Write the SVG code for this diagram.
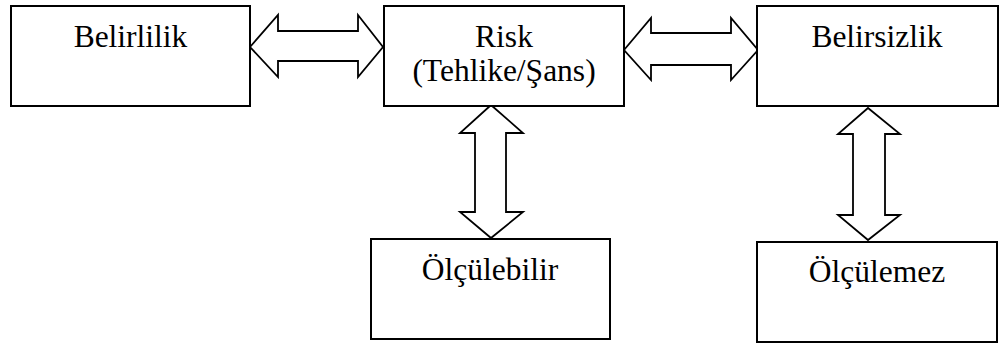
<svg xmlns="http://www.w3.org/2000/svg" width="1000" height="344" viewBox="0 0 1000 344">
<style>
.box{fill:#fff;stroke:#000;stroke-width:2}
.arr{fill:#fff;stroke:#000;stroke-width:1.8;stroke-linejoin:miter}
.t{font-family:'Liberation Serif','Times New Roman',serif;font-size:31.5px;fill:#000;text-anchor:middle}
</style>
<rect width="1000" height="344" fill="#fff"/>
<g id="connectors">
<polygon class="arr" points="250,47 278,15 278,31 358,31 358,15 383,47 358,77 358,61 278,61 278,77"/>
<polygon class="arr" points="624,50 651,18 651,33 731,33 731,18 758,50 731,80 731,65 651,65 651,80"/>
<polygon class="arr" points="491,105 523,133 506,133 506,212 523,212 491,238 460,212 475,212 475,133 460,133"/>
<polygon class="arr" points="868,108 900,134 885,134 885,215 900,215 868,240 838,215 853,215 853,134 838,134"/>
</g>
<g id="belirlilik"><rect class="box" x="11" y="6" width="239" height="100"/><text class="t" x="130.5" y="47">Belirlilik</text></g>
<g id="risk"><rect class="box" x="384" y="6" width="240" height="100"/><text class="t" x="504" y="47">Risk</text><text class="t" x="504" y="81">(Tehlike/Şans)</text></g>
<g id="belirsizlik"><rect class="box" x="757" y="6" width="241" height="100"/><text class="t" x="877" y="47">Belirsizlik</text></g>
<g id="olculebilir"><rect class="box" x="371" y="239" width="239" height="100"/><text class="t" x="490" y="280">Ölçülebilir</text></g>
<g id="olculemez"><rect class="box" x="757" y="242" width="240" height="100"/><text class="t" x="877" y="282">Ölçülemez</text></g>
</svg>
